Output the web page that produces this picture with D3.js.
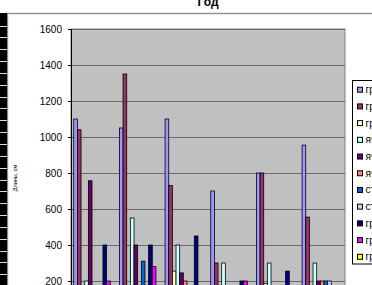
<!DOCTYPE html>
<html><head><meta charset="utf-8">
<script src="https://cdn.jsdelivr.net/npm/d3@7"></script>
<style>body{margin:0;background:#fff;overflow:hidden}svg{display:block;font-family:"Liberation Sans",Arial,sans-serif}</style>
</head><body><svg id="c" width="372" height="285"></svg>
<script>
const categories = ["2001","2002","2003","2004","2005","2006"];
const seriesNames = ["гр. 1","гр. 2","гр. 3","яч. 1","яч. 2","яч. 3","ст. 1","ст. 2","гр. 4","гр. 5","гр. 6"];
const seriesColors = ["#9999FF","#993366","#FFFFCC","#CCFFFF","#660066","#FF8080","#0066CC","#CCCCFF","#000080","#FF00FF","#FFFF00"];
const s1 = [1100, 1050, 1100, 700, 800, 955];
const s2 = [1040, 1350, 730, 300, 800, 555];
const s3 = [100, 100, 255, 100, 185, 100];
const s4 = [200, 550, 400, 300, 300, 300];
const s5 = [757, 400, 245, 100, 100, 200];
const s6 = [100, 100, 200, 100, 100, 200];
const s7 = [100, 310, 100, 100, 100, 200];
const s8 = [100, 100, 100, 100, 100, 200];
const s9 = [400, 400, 450, 200, 255, 100];
const s10 = [200, 280, 100, 200, 100, 100];
const s11 = [100, 100, 100, 100, 100, 100];
const seriesValues = [s1,s2,s3,s4,s5,s6,s7,s8,s9,s10,s11];
const yTicks = [0,200,400,600,800,1000,1200,1400,1600];
const titleText = "Год";
const yLabel = "Длины, см";

const svg = d3.select("#c");
const L = 71, R = 345, T = 29, B = 317;

// chart area border
svg.append("rect").attr("x",7.5).attr("y",13.5).attr("width",400).attr("height",400)
  .attr("fill","#fff").attr("stroke","#8a8a8a").attr("stroke-width",1.3);

// left black stripe
svg.append("rect").attr("x",0).attr("y",13).attr("width",7).attr("height",272).attr("fill","#000");
for (let yy = 25.5; yy < 285; yy += 11.85) {
  svg.append("line").attr("x1",0).attr("x2",7).attr("y1",Math.round(yy)+0.5).attr("y2",Math.round(yy)+0.5)
    .attr("stroke","#d8d8d8").attr("stroke-width",1);
}

// title
svg.append("text").attr("x",208).attr("y",6).attr("text-anchor","middle")
  .attr("font-size",12).attr("font-weight","bold").text(titleText);

const y = d3.scaleLinear().domain([0,1600]).range([B,T]);
const x0 = d3.scaleBand().domain(categories).range([L,R]).padding(0);
const x1 = d3.scaleBand().domain(seriesNames).range([0,x0.bandwidth()]).paddingInner(0).paddingOuter(0.75);

// plot area
svg.append("rect").attr("x",L).attr("y",T).attr("width",R-L).attr("height",B-T)
  .attr("fill","#C0C0C0").attr("stroke","#808080").attr("stroke-width",1);

// gridlines
svg.append("g").selectAll("line").data(yTicks.filter(d=>d>0)).join("line")
  .attr("x1",L).attr("x2",R).attr("y1",d=>Math.round(y(d))+0.5).attr("y2",d=>Math.round(y(d))+0.5)
  .attr("stroke","#6a6a6a").attr("stroke-width",1.2);

// bars
const groups = svg.append("g").selectAll("g").data(categories).join("g")
  .attr("transform",c=>`translate(${x0(c)},0)`);
groups.selectAll("rect").data((c,ci)=>seriesNames.map((s,si)=>({s,si,v:seriesValues[si][ci]}))).join("rect")
  .attr("x",d=>x1(d.s)).attr("width",x1.bandwidth())
  .attr("y",d=>y(d.v)).attr("height",d=>y(0)-y(d.v))
  .attr("fill",d=>seriesColors[d.si]).attr("stroke","#000").attr("stroke-width",0.8);

// y axis
const ax = svg.append("g").attr("transform",`translate(${L},0)`)
  .call(d3.axisLeft(y).tickValues(yTicks).tickSize(3).tickPadding(6).tickFormat(d3.format("d")));
ax.select(".domain").attr("stroke","#000");
ax.selectAll(".tick line").attr("stroke","#000");
ax.selectAll("text").attr("font-size",10).attr("fill","#000").attr("font-family","Liberation Sans, Arial, sans-serif");

// x axis labels (below visible area)
svg.append("g").selectAll("text").data(categories).join("text")
  .attr("x",c=>x0(c)+x0.bandwidth()/2).attr("y",B+14).attr("text-anchor","middle")
  .attr("font-size",10).text(c=>c);

// y label
svg.append("text").attr("transform","translate(17,178) rotate(-90)").attr("text-anchor","middle")
  .attr("font-size",5.5).attr("fill","#000").text(yLabel);

// legend
const lg = svg.append("g");
lg.append("rect").attr("x",352.5).attr("y",80.5).attr("width",40).attr("height",183.5)
  .attr("fill","#fff").attr("stroke","#000").attr("stroke-width",1);
const ly = d3.scalePoint().domain(seriesNames).range([89.7,256.8]);
lg.selectAll("rect.m").data(seriesNames).join("rect").attr("class","m")
  .attr("x",357.5).attr("y",s=>ly(s)-2.5).attr("width",5).attr("height",5)
  .attr("fill",(s,i)=>seriesColors[i]).attr("stroke","#000").attr("stroke-width",1);
lg.selectAll("text").data(seriesNames).join("text")
  .attr("x",365.5).attr("y",s=>ly(s)+3.5).attr("font-size",10).text(s=>s);
</script></body></html>
